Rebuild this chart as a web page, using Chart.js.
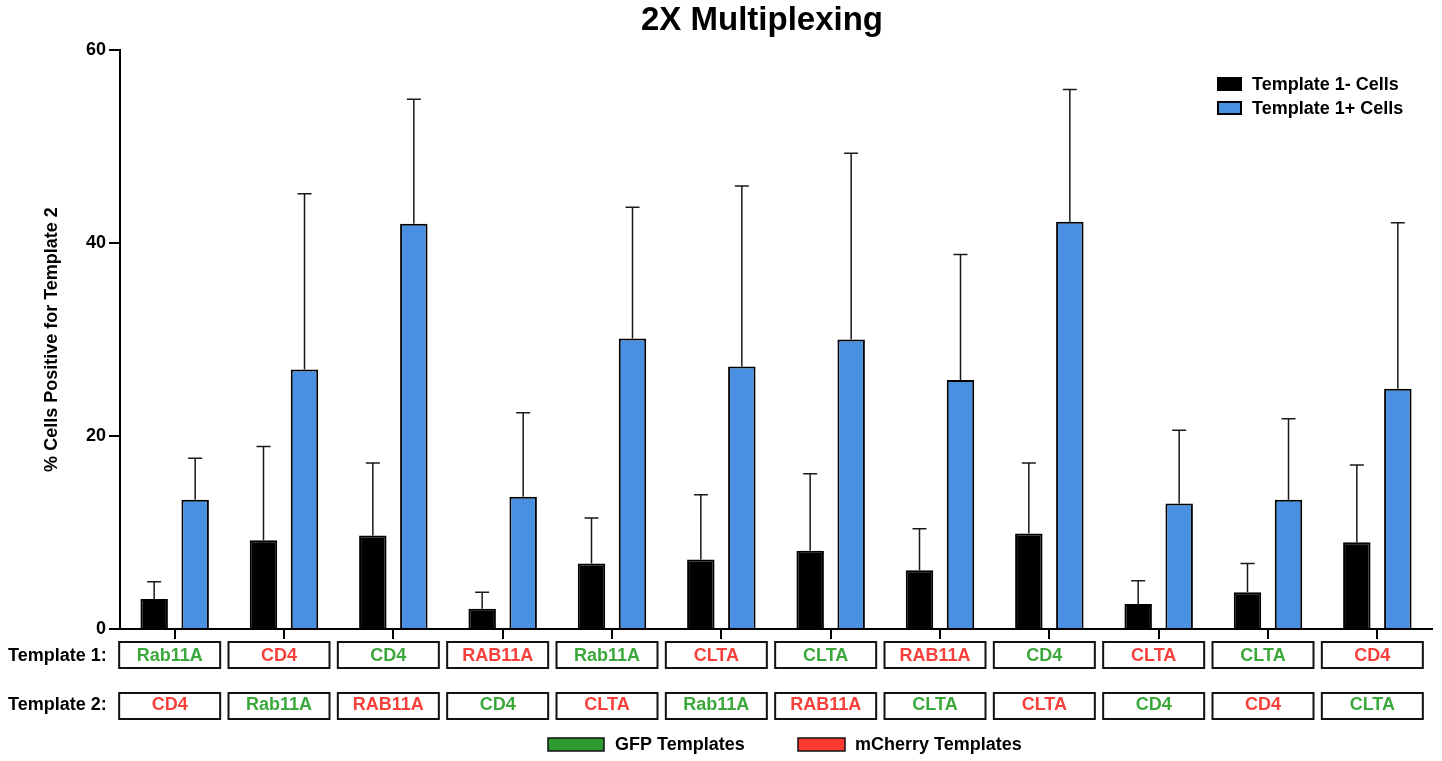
<!DOCTYPE html>
<html>
<head>
<meta charset="utf-8">
<title>2X Multiplexing</title>
<script src="https://cdn.jsdelivr.net/npm/chart.js@4.4.1/dist/chart.umd.min.js"></script>
<style>
  html, body { margin: 0; padding: 0; background: #ffffff; }
  #wrap { width: 1442px; height: 761px; position: relative; }
</style>
</head>
<body>
<div id="wrap"><canvas id="chart" width="1442" height="761"></canvas></div>
<script>
// Knock-in pairs: the first and second HDR template of each condition
const template1 = ['Rab11A', 'CD4', 'CD4', 'RAB11A', 'Rab11A', 'CLTA', 'CLTA', 'RAB11A', 'CD4', 'CLTA', 'CLTA', 'CD4'];
const template1Reporter = ['GFP', 'mCherry', 'GFP', 'mCherry', 'GFP', 'mCherry', 'GFP', 'mCherry', 'GFP', 'mCherry', 'GFP', 'mCherry'];
const template2 = ['CD4', 'Rab11A', 'RAB11A', 'CD4', 'CLTA', 'Rab11A', 'RAB11A', 'CLTA', 'CLTA', 'CD4', 'CD4', 'CLTA'];
const template2Reporter = ['mCherry', 'GFP', 'mCherry', 'GFP', 'mCherry', 'GFP', 'mCherry', 'GFP', 'mCherry', 'GFP', 'mCherry', 'GFP'];

// % of cells positive for template 2, mean and upper error (SD)
const negativeMeans  = [3.1, 9.2, 9.7, 2.1, 6.8, 7.2, 8.1, 6.1, 9.9, 2.6, 3.8, 9.0];
const negativeErrors = [1.8, 9.7, 7.5, 1.7, 4.7, 6.7, 8.0, 4.3, 7.3, 2.4, 3.0, 8.0];
const positiveMeans  = [13.4, 26.9, 42.0, 13.7, 30.1, 27.2, 30.0, 25.8, 42.2, 13.0, 13.4, 24.9];
const positiveErrors = [4.3, 18.2, 12.9, 8.7, 13.6, 18.7, 19.3, 13.0, 13.7, 7.6, 8.4, 17.2];

const yTicks = [0, 20, 40, 60];
const seriesNames = ['Template 1- Cells', 'Template 1+ Cells'];
const reporterNames = { GFP: 'GFP Templates', mCherry: 'mCherry Templates' };

const FONT = '"Liberation Sans", Arial, Helvetica, sans-serif';
const TEXT_COLORS = { GFP: '#3aa83a', mCherry: '#f7403a' };
const SWATCH_COLORS = { GFP: '#2f9a2f', mCherry: '#ff3b30' };

// Upper-only whiskers on every bar
const errorBars = {
  id: 'errorBars',
  afterDatasetsDraw(chart) {
    const ctx = chart.ctx;
    const y = chart.scales.y;
    chart.data.datasets.forEach((ds, di) => {
      const meta = chart.getDatasetMeta(di);
      meta.data.forEach((bar, i) => {
        const top = y.getPixelForValue(ds.data[i] + ds.errors[i]);
        ctx.save();
        ctx.strokeStyle = '#1a1a1a';
        ctx.lineWidth = 1.5;
        ctx.beginPath();
        ctx.moveTo(bar.x, bar.y);
        ctx.lineTo(bar.x, top);
        ctx.moveTo(bar.x - 7, top);
        ctx.lineTo(bar.x + 7, top);
        ctx.stroke();
        ctx.restore();
      });
    });
  }
};

// Title, series key, template label boxes and reporter key
const annotations = {
  id: 'annotations',
  afterDraw(chart) {
    const ctx = chart.ctx;
    const x = chart.scales.x;
    ctx.save();

    // title
    ctx.fillStyle = '#000';
    ctx.font = 'bold 33px ' + FONT;
    ctx.textAlign = 'center';
    ctx.textBaseline = 'middle';
    ctx.fillText('2X Multiplexing', 762, 21);

    // series key (top right)
    ctx.textAlign = 'left';
    ctx.font = 'bold 18px ' + FONT;
    chart.data.datasets.forEach((ds, i) => {
      const cy = 84 + i * 24;
      ctx.fillStyle = ds.backgroundColor;
      ctx.fillRect(1218, cy - 6, 23, 12);
      ctx.strokeStyle = '#000';
      ctx.lineWidth = 2;
      ctx.strokeRect(1218, cy - 6, 23, 12);
      ctx.fillStyle = '#000';
      ctx.fillText(ds.label, 1252, cy + 1);
    });

    // row captions
    ctx.fillStyle = '#000';
    ctx.font = 'bold 18px ' + FONT;
    ctx.fillText('Template 1:', 8, 656);
    ctx.fillText('Template 2:', 8, 705);

    // template name boxes under each group
    const rows = [
      { names: template1, reporters: template1Reporter, top: 642, textY: 656 },
      { names: template2, reporters: template2Reporter, top: 693, textY: 705 }
    ];
    ctx.textAlign = 'center';
    rows.forEach(row => {
      row.names.forEach((name, i) => {
        const cx = x.getPixelForValue(i) - 5;
        ctx.strokeStyle = '#111';
        ctx.lineWidth = 2;
        ctx.strokeRect(cx - 50.5, row.top, 101, 26);
        ctx.fillStyle = TEXT_COLORS[row.reporters[i]];
        ctx.fillText(name, cx, row.textY);
      });
    });

    // reporter key (bottom)
    const keys = [
      { type: 'GFP', x: 548, w: 56, textX: 615 },
      { type: 'mCherry', x: 798, w: 47, textX: 855 }
    ];
    ctx.textAlign = 'left';
    keys.forEach(k => {
      ctx.fillStyle = SWATCH_COLORS[k.type];
      ctx.fillRect(k.x, 738, k.w, 13);
      ctx.strokeStyle = '#111';
      ctx.lineWidth = 1.5;
      ctx.strokeRect(k.x, 738, k.w, 13);
      ctx.fillStyle = '#000';
      ctx.fillText(reporterNames[k.type], k.textX, 745);
    });

    ctx.restore();
  }
};

const labels = template1.map((t, i) => t + ' / ' + template2[i]);

new Chart(document.getElementById('chart'), {
  type: 'bar',
  data: {
    labels: labels,
    datasets: [
      {
        label: seriesNames[0],
        data: negativeMeans,
        errors: negativeErrors,
        backgroundColor: '#000000',
        borderColor: '#000000',
        borderWidth: 2,
        categoryPercentage: 0.75,
        barPercentage: 0.67
      },
      {
        label: seriesNames[1],
        data: positiveMeans,
        errors: positiveErrors,
        backgroundColor: '#4a90e2',
        borderColor: '#000000',
        borderWidth: 2,
        categoryPercentage: 0.75,
        barPercentage: 0.67
      }
    ]
  },
  options: {
    responsive: false,
    animation: false,
    devicePixelRatio: 1,
    layout: { padding: { left: 0, right: 10, top: 50, bottom: 0 } },
    plugins: {
      legend: { display: false },
      title: { display: false },
      tooltip: { enabled: false }
    },
    scales: {
      x: {
        grid: { drawOnChartArea: false, drawTicks: true, tickLength: 10, offset: false, color: '#000', lineWidth: 2 },
        border: { display: true, color: '#000', width: 2 },
        ticks: { display: false },
        afterFit: (s) => { s.height = 132; }
      },
      y: {
        min: 0,
        max: 60,
        afterBuildTicks: (s) => { s.ticks = yTicks.map(v => ({ value: v })); },
        grid: { drawOnChartArea: false, drawTicks: true, tickLength: 11, color: '#000', lineWidth: 2 },
        border: { display: true, color: '#000', width: 2 },
        ticks: { color: '#000', padding: 3, font: { family: FONT, size: 18, weight: 'bold' } },
        title: {
          display: true,
          text: '% Cells Positive for Template 2',
          color: '#000',
          font: { family: FONT, size: 18, weight: 'bold' },
          padding: { top: 41, bottom: 0 }
        },
        afterFit: (s) => { s.width = 120; }
      }
    }
  },
  plugins: [errorBars, annotations]
});
</script>
</body>
</html>
